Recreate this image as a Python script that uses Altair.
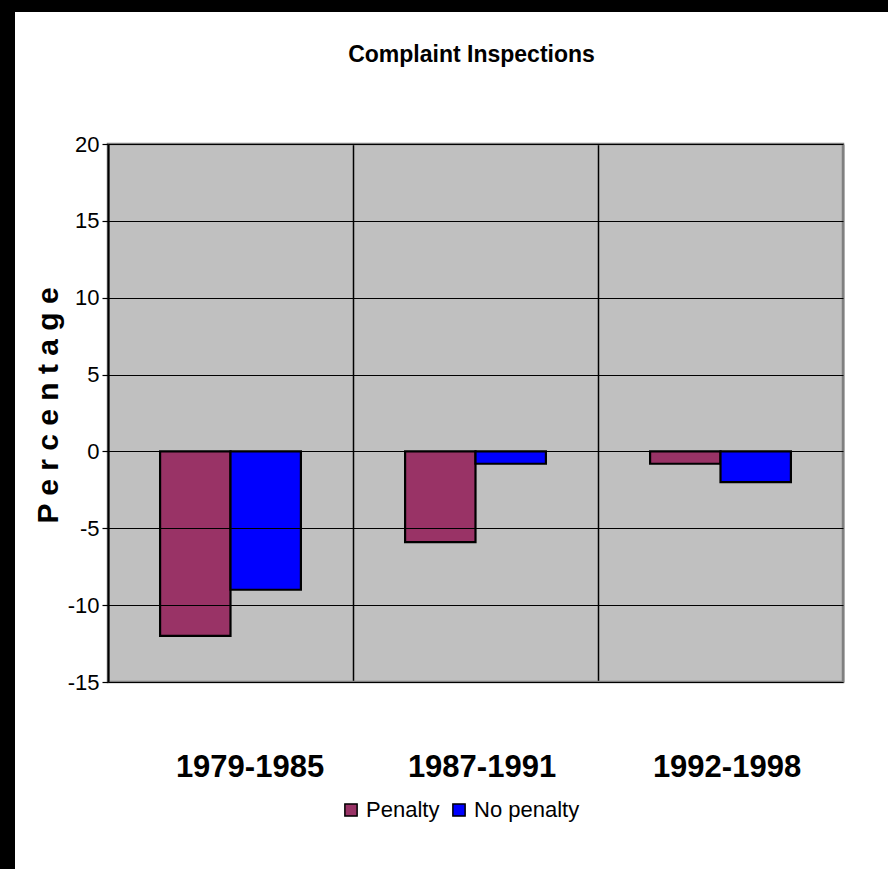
import altair as alt
import pandas as pd

# Change in inspection outcomes per period
periods = ["1979-1985", "1987-1991", "1992-1998"]
series = ["Penalty", "No penalty"]
penalty = [-12.0, -5.9, -0.8]
no_penalty = [-9.0, -0.8, -2.0]
colors = ["#993366", "#0000ff"]
chart_title = "Complaint Inspections"

rows = []
for p, a, b in zip(periods, penalty, no_penalty):
    rows.append({"period": p, "series": series[0], "value": a})
    rows.append({"period": p, "series": series[1], "value": b})
df = pd.DataFrame(rows)
one = pd.DataFrame({"k": [0]})

SANS = "Liberation Sans, Arial, sans-serif"
W, H = 735, 538

# Black frame strips along the top and left edges of the page
frame_top = alt.Chart(one).mark_rect(color="black").encode(
    x=alt.value(-108), x2=alt.value(780), y=alt.value(-144), y2=alt.value(-132)
)
frame_left = alt.Chart(one).mark_rect(color="black").encode(
    x=alt.value(-108), x2=alt.value(-93), y=alt.value(-144), y2=alt.value(725)
)

# Chart heading, centred above the plot
heading = alt.Chart(one).mark_text(
    font=SANS, fontSize=23, fontWeight="bold", color="black",
    align="center", baseline="middle",
).encode(x=alt.value(W / 2 - 4), y=alt.value(-89), text=alt.value(chart_title))

bars = alt.Chart(df).mark_bar(stroke="black", strokeWidth=2.2).encode(
    x=alt.X(
        "period:N",
        sort=periods,
        scale=alt.Scale(paddingInner=0, paddingOuter=0),
        axis=alt.Axis(
            title=None,
            tickBand="extent",
            grid=True,
            gridColor="black",
            gridWidth=1.5,
            domain=False,
            ticks=False,
            labelAngle=0,
            labelLimit=0,
            labelOffset=alt.condition(
                alt.datum.value == periods[0], alt.value(19), alt.value(6)
            ),
            labelFont=SANS,
            labelFontSize=31,
            labelFontWeight="bold",
            labelColor="black",
            labelPadding=70,
        ),
    ),
    xOffset=alt.XOffset(
        "series:N", sort=series, scale=alt.Scale(paddingOuter=0.74, paddingInner=0)
    ),
    y=alt.Y(
        "value:Q",
        scale=alt.Scale(domain=[-15, 20], nice=False, zero=False),
        axis=alt.Axis(
            values=[-15, -10, -5, 0, 5, 10, 15, 20],
            labelExpr="'' + datum.value",
            grid=True,
            gridColor="black",
            gridWidth=1.2,
            domainColor="black",
            domainWidth=2,
            tickColor="black",
            tickSize=6,
            tickWidth=1.2,
            labelFont=SANS,
            labelFontSize=22,
            labelColor="black",
            labelPadding=3,
            title="P e r c e n t a g e",
            titleFont=SANS,
            titleFontSize=30,
            titleFontWeight="bold",
            titleColor="black",
            titleAngle=-90,
            titleAlign="center",
            titleBaseline="middle",
            titleX=-60,
            titleY=261,
            zindex=1,
        ),
    ),
    y2=alt.datum(0),
    color=alt.Color(
        "series:N",
        sort=series,
        scale=alt.Scale(domain=series, range=colors),
        legend=alt.Legend(
            title=None,
            orient="none",
            direction="horizontal",
            legendX=232,
            legendY=655,
            symbolType="square",
            symbolSize=150,
            symbolStrokeColor="black",
            symbolStrokeWidth=1.5,
            symbolOpacity=1,
            labelFont=SANS,
            labelFontSize=22,
            labelColor="black",
            labelOffset=4,
            columnPadding=8,
        ),
    ),
)

# Grey border around the plot area
border = alt.Chart(one).mark_rect(fill=None, stroke="#808080", strokeWidth=2.5).encode(
    x=alt.value(0), x2=alt.value(W), y=alt.value(0), y2=alt.value(H)
)

chart = (
    alt.layer(frame_top, frame_left, heading, bars, border)
    .properties(
        width=W,
        height=H,
        autosize=alt.AutoSizeParams(type="none"),
        padding={"left": 108, "top": 144, "right": 45, "bottom": 187},
        background="white",
    )
    .configure_view(fill="#c0c0c0", stroke=None)
)

chart.save("out.html", embed_options={"renderer": "svg", "actions": False})
